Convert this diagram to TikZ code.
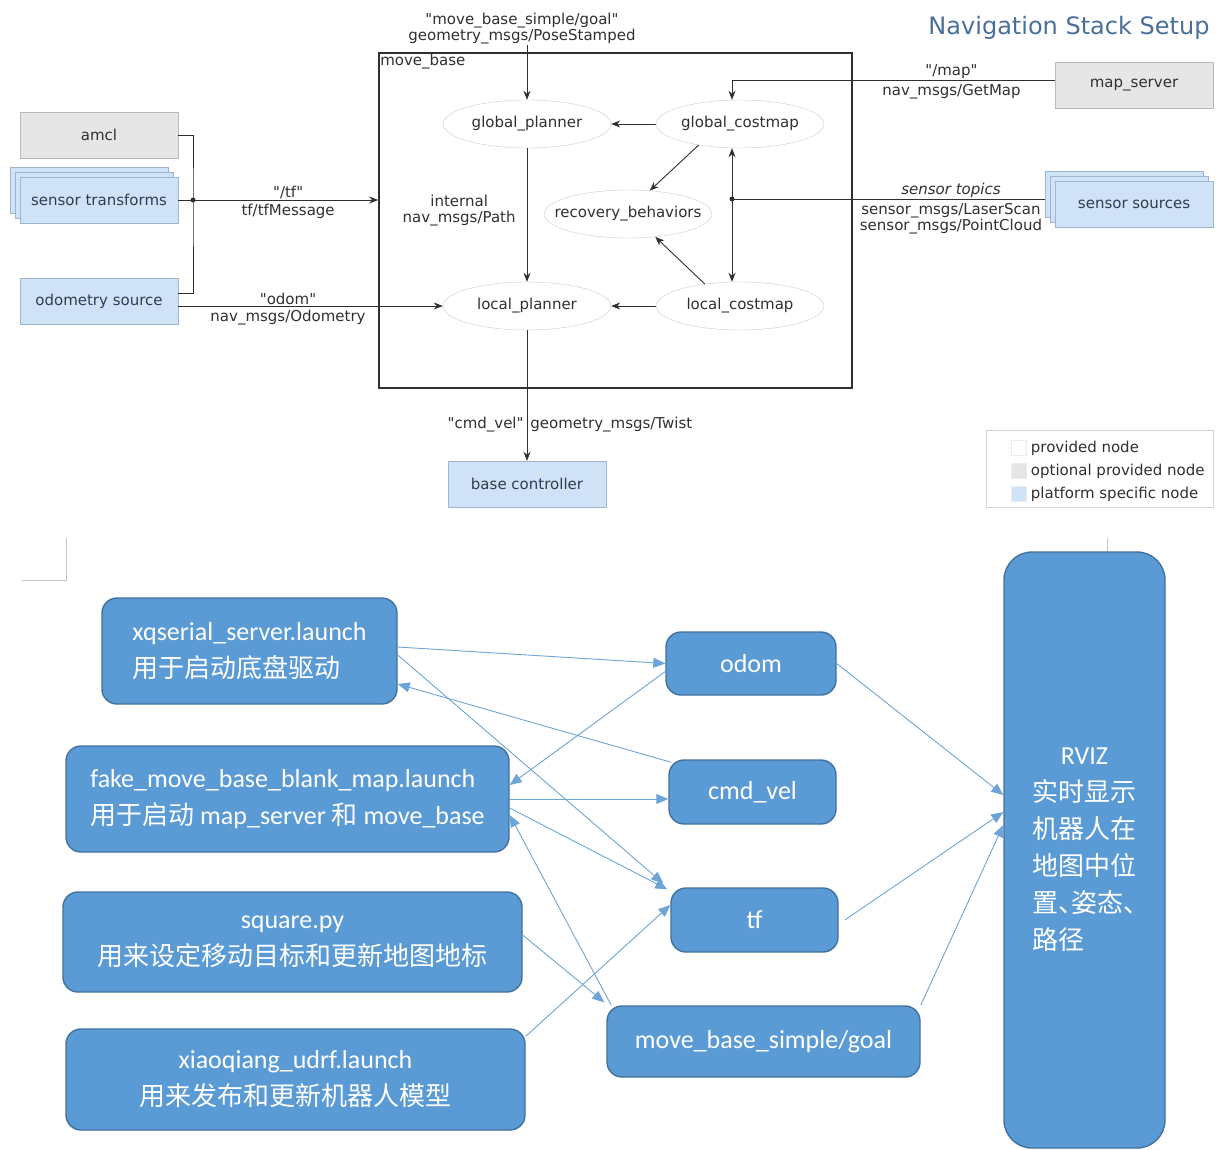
\documentclass[tikz,border=0pt]{standalone}
\usepackage{fontspec}
\setmainfont{DejaVu Sans}
\newfontfamily\rosfont{DejaVu Sans}
\newfontfamily\carlito{Carlito}
\newfontfamily\zhfont{Noto Sans CJK SC}
\newcommand{\zh}[1]{{\zhfont #1}}
\usetikzlibrary{shapes.geometric, arrows.meta, positioning, calc, shadows}

\definecolor{rosGray}{RGB}{230,230,230}
\definecolor{rosGrayLine}{RGB}{185,185,185}
\definecolor{rosBlue}{RGB}{207,226,246}
\definecolor{rosBlueLine}{RGB}{160,182,208}
\definecolor{rosText}{RGB}{48,48,48}
\definecolor{rosBlueText}{RGB}{50,60,82}
\definecolor{rosTitle}{RGB}{74,111,155}
\definecolor{wordBlue}{RGB}{91,155,213}
\definecolor{wordBlueLine}{RGB}{65,113,156}
\definecolor{wordArrow}{RGB}{110,165,215}

\begin{document}
\begin{tikzpicture}[x=1pt, y=-1pt,
    font=\rosfont\fontsize{15}{16}\selectfont,
    optnode/.style={draw=rosGrayLine, fill=rosGray, minimum width=158pt, minimum height=46pt, text=rosText},
    platnode/.style={draw=rosBlueLine, fill=rosBlue, minimum width=158pt, minimum height=46pt, text=rosBlueText},
    stacked/.style={double copy shadow={shadow xshift=-5pt, shadow yshift=5pt}},
    rosell/.style={ellipse, draw=gray!40, fill=white, minimum width=168pt, minimum height=48pt, inner sep=0pt, text=rosText},
    lbl/.style={text=rosText, align=center, inner sep=1pt},
    lblb/.style={lbl, inner sep=4pt},
    rosline/.style={draw=rosText, line width=0.9pt},
    arr/.style={rosline, -{Stealth[length=9pt, width=7pt]}},
    wbox/.style={draw=wordBlueLine, line width=1.4pt, fill=wordBlue, rounded corners=15pt, text=white,
                 font=\carlito\fontsize{26}{37}\selectfont},
    warr/.style={draw=wordArrow, line width=0.9pt, -{Triangle[length=12pt, width=10pt]}}
  ]
    \fill[white] (0,0) rectangle (1220,1149);
    \useasboundingbox (0,0) rectangle (1220,1149);

    % Title
    \node[font=\rosfont\fontsize{24}{26}\selectfont, text=rosTitle, anchor=east] (title) at (1213,28) {Navigation Stack Setup};

    % Sources on the left
    \node[optnode] (amcl) at (99,135) {amcl};
    \node[platnode, stacked] (st) at (99,200) {sensor transforms};
    \node[platnode] (odo) at (99,301) {odometry source};

    % Sources on the right
    \node[optnode] (ms) at (1134,85) {map\_server};
    \node[platnode, stacked] (ss) at (1134,204) {sensor sources};

    % move_base
    \node[draw=rosText, line width=1.8pt, minimum width=473pt, minimum height=335pt, inner sep=0pt] (mb) at (615.5,220.5) {};
    \node[lbl, anchor=north west, inner sep=2pt] (mblbl) at (mb.north west) {move\_base};

    \node[rosell] (gp) at (527,124) {\makebox[0pt]{global\_planner}};
    \node[rosell] (gc) at (740,124) {\makebox[0pt]{global\_costmap}};
    \node[rosell] (rb) at (628,214) {\makebox[0pt]{recovery\_behaviors}};
    \node[rosell] (lp) at (527,306) {\makebox[0pt]{local\_planner}};
    \node[rosell] (lc) at (740,306) {\makebox[0pt]{local\_costmap}};

    % Base controller
    \node[platnode] (bc) at (527,484) {base controller};

    % Junctions
    \coordinate (tfj) at (193,200);
    \coordinate (sj) at (732,199);
    \coordinate (goalsrc) at (527,45);

    % Connectors into move_base
    \draw[rosline] (amcl.east) -| (tfj) |- ([yshift=8pt]odo.east);
    \fill[rosText] (tfj) circle (2.5pt);
    \draw[arr] (st.east) -- (st.east -| mb.west)
        node[lbl, above, pos=0.55] (tflbl) {"/tf"}
        node[lblb, below, pos=0.55] (tftype) {tf/tfMessage};
    \draw[arr] (odo.east |- lp.west) -- (lp.west)
        node[lbl, above, pos=0.415] (odomlbl) {"odom"}
        node[lblb, below, pos=0.415] (odomtype) {nav\_msgs/Odometry};

    \node[lbl, above, xshift=-5pt] (goallbl) at (goalsrc) {"move\_base\_simple/goal"\\geometry\_msgs/PoseStamped};
    \draw[arr] (goalsrc) -- (goalsrc |- gp.north);

    \draw[arr] ([yshift=5pt]ms.west) -| ([xshift=-8pt]gc.north)
        node[lbl, above, pos=0.16] (maplbl) {"/map"}
        node[lblb, below, pos=0.16] (maptype) {nav\_msgs/GetMap};

    \draw[rosline] (sj) -- ($(ss.west |- sj)+(-10,0)$)
        node[lbl, above, pos=0.7] (senslbl) {\itshape sensor topics}
        node[lblb, below, pos=0.7] (senstype) {sensor\_msgs/LaserScan\\sensor\_msgs/PointCloud};
    \fill[rosText] (sj) circle (2.5pt);
    \draw[arr] (sj) -- (sj |- gc.south);
    \draw[arr] (sj) -- (sj |- lc.north);

    % Inside move_base
    \draw[arr] (gc) -- (gp);
    \draw[arr] (lc) -- (lp);
    \draw[arr] (gc.207) -- (rb.47);
    \draw[arr] (lc.148) -- (rb.-40);
    \draw[arr] (gp) -- (lp)
        node[lbl, left, midway, xshift=-10pt, yshift=4pt] (pathlbl) {internal\\nav\_msgs/Path};

    % Output
    \draw[arr] (lp.south) -- (bc.north)
        node[lbl, left, pos=0.72, xshift=-2pt] (cmdlbl) {"cmd\_vel"}
        node[lbl, right, pos=0.72, xshift=2pt] (cmdtype) {geometry\_msgs/Twist};

    % Legend
    \node[draw=rosGrayLine!60, line width=0.6pt, minimum width=227pt, minimum height=77pt] (legend) at (1099.5,468.5) {};
    \foreach \c/\t/\y [count=\i] in {white/provided node/448, rosGray/optional provided node/471, rosBlue/platform specific node/494} {
      \node[draw=gray!15, fill=\c, minimum size=15pt, inner sep=0pt] (key\i) at (1019,\y) {};
      \node[lbl, anchor=west, xshift=3pt] (keytxt\i) at (key\i.east) {\t};
    }

    % Page marks
    \draw[gray!45, line width=0.6pt] (22,580) -- (66,580) -- (66,538);
    \draw[gray!45, line width=0.6pt] (1107,538) -- (1107,552);

    % Launch files
    \node[wbox, minimum width=295pt, minimum height=106pt, align=left] (xq) at (249.5,651)
        {xqserial\_server.launch\\\zh{用于启动底盘驱动}};
    \node[wbox, minimum width=443pt, minimum height=106pt, align=left] (fake) at (287.5,799)
        {fake\_move\_base\_blank\_map.launch\\\zh{用于启动} map\_server \zh{和} move\_base};
    \node[wbox, minimum width=459pt, minimum height=100pt, align=center] (sq) at (292.5,942)
        {square.py\\\zh{用来设定移动目标和更新地图地标}};
    \node[wbox, minimum width=459pt, minimum height=101pt, align=center] (xiao) at (295.5,1079.5)
        {xiaoqiang\_udrf.launch\\\zh{用来发布和更新机器人模型}};

    % Topics
    \node[wbox, minimum width=170pt, minimum height=63pt] (odomb) at (751,663.5) {odom};
    \node[wbox, minimum width=167pt, minimum height=64pt] (cmdb) at (752.5,792) {cmd\_vel};
    \node[wbox, minimum width=167pt, minimum height=64pt] (tfb) at (754.5,920) {tf};
    \node[wbox, minimum width=313pt, minimum height=71pt] (goalb) at (763.5,1041.5) {move\_base\_simple/goal};

    % RVIZ
    \node[wbox, minimum width=161pt, minimum height=596pt, rounded corners=28pt, align=left] (rviz) at (1084.5,850)
        {\makebox[104pt]{RVIZ}\\\zh{实时显示}\\\zh{机器人在}\\\zh{地图中位}\\
         \zh{置\makebox[13pt][l]{、}姿态\makebox[13pt][l]{、}}\\\zh{路径}};

    % Links
    \draw[warr] ([yshift=4pt]xq.east) -- (odomb.west);
    \draw[warr] ([yshift=-8pt]odomb.west) -- ([yshift=14pt]fake.east);
    \draw[warr] ([shift={(3pt,-3pt)}]cmdb.north west) -- ([yshift=-33pt]xq.east);
    \draw[warr] ([yshift=-4pt]xq.east) -- ([shift={(-7pt,4pt)}]tfb.north west);
    \draw[warr] (fake.east) -- (cmdb.west |- fake.east);
    \draw[warr] ([yshift=-9pt]fake.east) -- ([shift={(-3pt,-2pt)}]tfb.north west);
    \draw[warr] ([xshift=5pt]goalb.north west) -- ([yshift=-16pt]fake.east);
    \draw[warr] ([yshift=7pt]sq.east) -- ([shift={(-2pt,3pt)}]goalb.north west);
    \draw[warr] ([yshift=-8pt]xiao.north east) -- ([yshift=15pt]tfb.west);
    \draw[warr] (odomb.east) -- ([yshift=55pt]rviz.west);
    \draw[warr] ([xshift=6pt]tfb.east) -- ([yshift=38pt]rviz.west);
    \draw[warr] (goalb.north east) -- ([yshift=25pt]rviz.west);
  \end{tikzpicture}
\end{document}
